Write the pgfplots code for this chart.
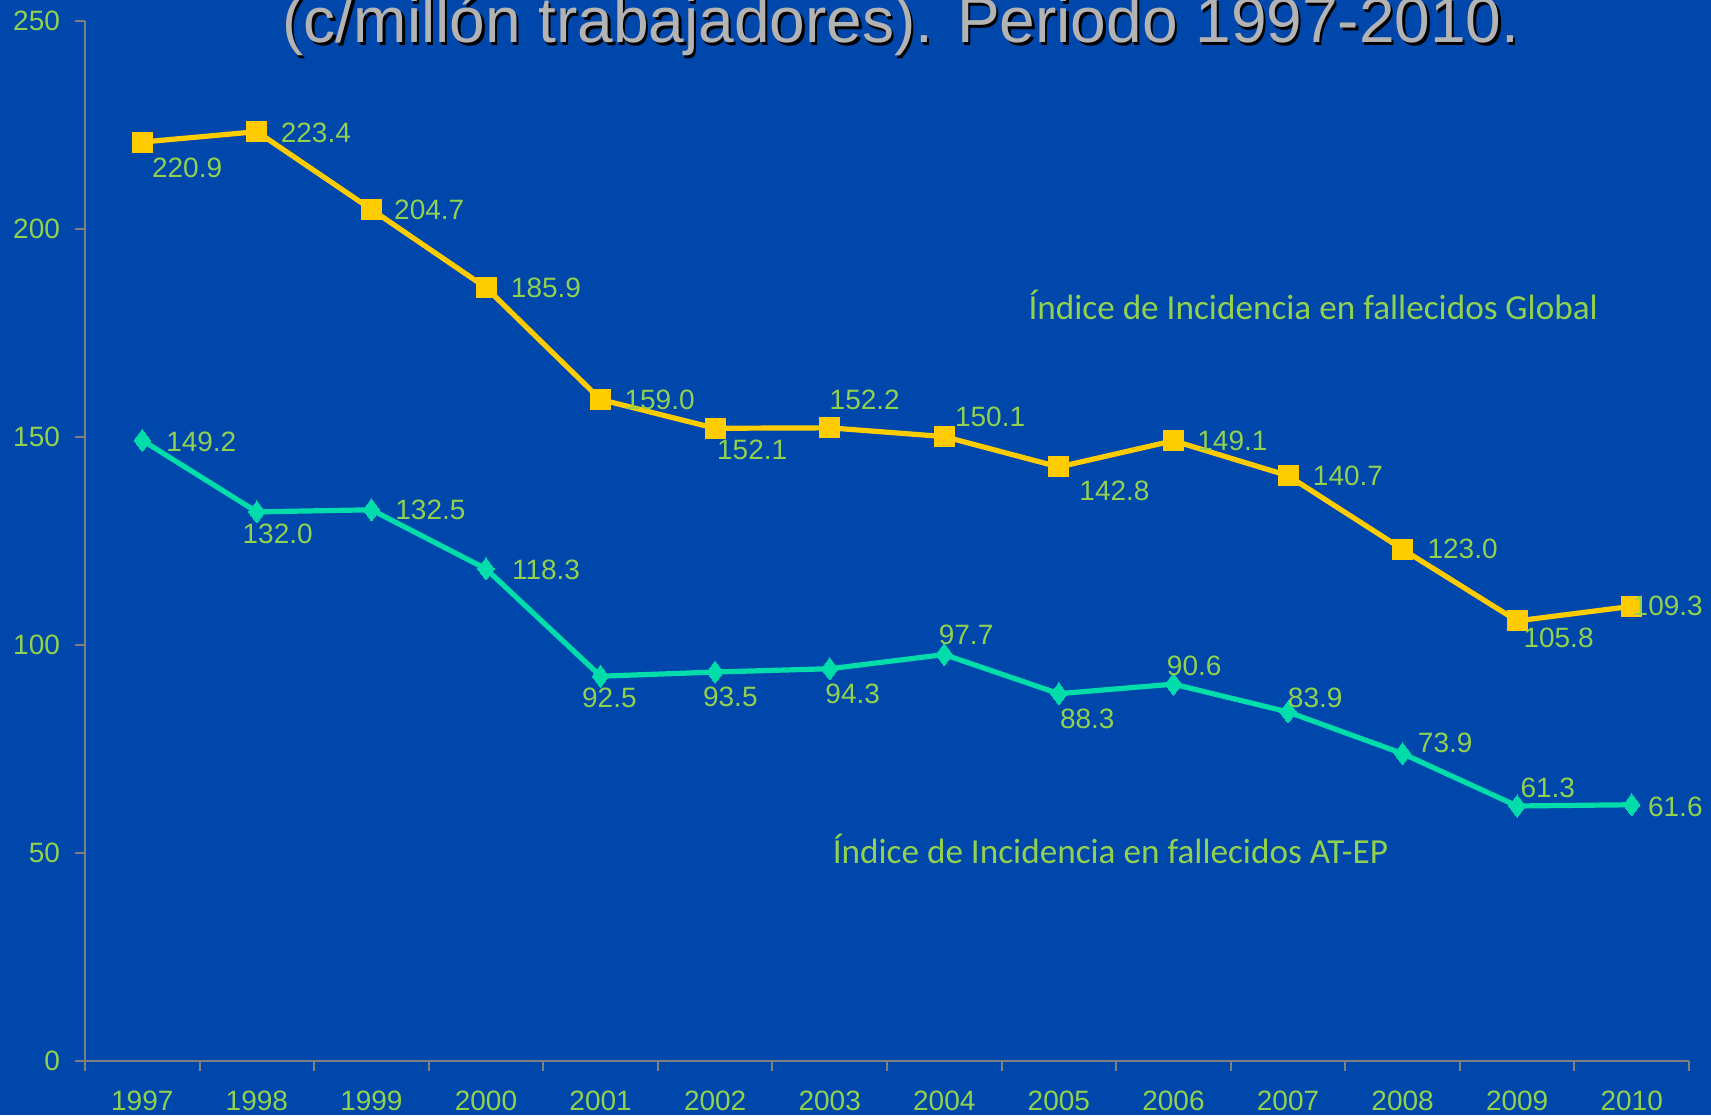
\documentclass[border=0pt]{standalone}
\usepackage{fontspec}
\setmainfont{Liberation Sans}
\newfontfamily\annfont{Carlito}
\usepackage{pgfplots}
\pgfplotsset{compat=1.18}
\definecolor{bgblue}{HTML}{0047AB}
\definecolor{labgreen}{HTML}{92D050}
\definecolor{cGlob}{HTML}{FFCC00}
\definecolor{cATEP}{HTML}{00DDAA}
\definecolor{axgray}{HTML}{808080}
\definecolor{titgray}{HTML}{B3B3B3}

% x y dx dy  (dx, dy: label offset from the point, pt)
\pgfplotstableread{
x y dx dy
0 220.9 22.4 -13.1
1 223.4 29.5 -0.5
2 204.7 28.9 0
3 185.9 30 0
4 159.0 29.5 0
5 152.1 18.5 -10.9
6 152.2 17.5 14.2
7 150.1 22.9 9.8
8 142.8 27.8 -12
9 149.1 29.5 0
10 140.7 30 0
11 123.0 30 0
12 105.8 20.7 -8.7
13 109.3 18 0
}\globtab

\pgfplotstableread{
x y dx dy
0 149.2 29.5 -1
1 132.0 10.4 -10.9
2 132.5 29.5 0
3 118.3 30 -0.5
4 92.5 4.4 -10.9
5 93.5 7.6 -12.5
6 94.3 11.5 -12.5
7 97.7 10.9 9.8
8 88.3 14.2 -12.5
9 90.6 10.4 9.3
10 83.9 13.6 7.1
11 73.9 21.3 5.5
12 61.3 15.3 9.3
13 61.6 21.8 -1
}\ateptab

\begin{document}
\begin{tikzpicture}
\useasboundingbox (0,0) rectangle (855.5pt,557.5pt);
\fill[bgblue] (0,0) rectangle (855.5pt,557.5pt);
\node[anchor=base, inner sep=0, text=black, font=\fontsize{32}{36}\selectfont] at (451.7pt,534.8pt) {(c/millón trabajadores). Periodo 1997-2010.};
\node[anchor=base, inner sep=0, text=titgray, font=\fontsize{32}{36}\selectfont] at (450.5pt,536pt) {(c/millón trabajadores). Periodo 1997-2010.};
\begin{axis}[
  at={(42.5pt,27pt)}, anchor=south west,
  scale only axis, width=802pt, height=520pt,
  clip=false,
  xmin=-0.5, xmax=13.5, ymin=0, ymax=250,
  axis lines=left,
  axis line style={-, draw=axgray, line width=1pt},
  tick style={draw=axgray, line width=1pt},
  tick align=outside,
  major tick length=5pt,
  xtick={-0.5,0.5,...,13.5},
  xticklabels={1997,1998,1999,2000,2001,2002,2003,2004,2005,2006,2007,2008,2009,2010},
  x tick label as interval,
  ytick={0,50,...,250},
  /pgf/number format/assume math mode=true,
  tick label style={text=labgreen, font=\fontsize{14}{16}\selectfont},
  xticklabel style={yshift=-6.5pt},
  yticklabel style={xshift=-4pt},
  nodes near coords={\pgfmathprintnumber[fixed,fixed zerofill,precision=1,assume math mode=true]{\pgfplotspointmeta}},
  point meta=y,
  visualization depends on={\thisrow{dx} \as \dx},
  visualization depends on={\thisrow{dy} \as \dy},
  nodes near coords style={anchor=center, inner sep=0pt, xshift=\dx pt, yshift=\dy pt,
    text=labgreen, font=\fontsize{14}{16}\selectfont},
]
\addplot[color=cGlob, line width=2.6pt, mark=square*, mark size=5pt,
  mark options={solid, fill=cGlob, draw=cGlob, line width=0pt}] table[x=x, y=y] {\globtab};
\addplot[color=cATEP, line width=2.6pt, mark=diamond*, mark size=5.5pt,
  mark options={solid, fill=cATEP, draw=cATEP, line width=0pt}] table[x=x, y=y] {\ateptab};
\node[text=labgreen, font=\annfont\fontsize{17.6}{20}\selectfont, inner sep=0] at (axis cs:10.22,181.8) {Índice de Incidencia en fallecidos Global};
\node[text=labgreen, font=\annfont\fontsize{17.6}{20}\selectfont, inner sep=0] at (axis cs:8.45,50.9) {Índice de Incidencia en fallecidos AT-EP};
\end{axis}
\end{tikzpicture}
\end{document}
